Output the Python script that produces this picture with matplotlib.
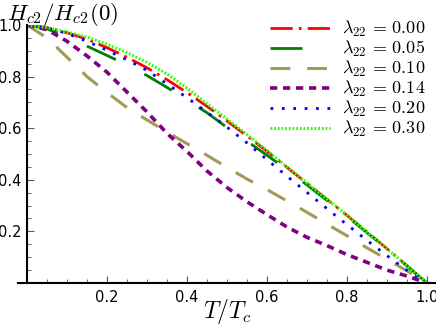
import numpy as np
import matplotlib
matplotlib.use("Agg")
import matplotlib.pyplot as plt
from matplotlib.ticker import MultipleLocator

t = np.linspace(0, 1, 21)

hc_000 = [1.0, 0.99, 0.97, 0.945, 0.912, 0.875, 0.834, 0.788, 0.738, 0.685, 0.628,
          0.57, 0.51, 0.448, 0.386, 0.324, 0.262, 0.198, 0.133, 0.067, 0.0]
hc_005 = [1.0, 0.985, 0.955, 0.918, 0.882, 0.845, 0.804, 0.758, 0.709, 0.66, 0.603,
          0.55, 0.495, 0.439, 0.38, 0.32, 0.258, 0.195, 0.132, 0.066, 0.0]
hc_010 = [1.0, 0.95, 0.875, 0.80, 0.738, 0.68, 0.632, 0.585, 0.54, 0.495, 0.448,
          0.403, 0.362, 0.318, 0.274, 0.228, 0.183, 0.136, 0.092, 0.047, 0.0]
hc_014 = [1.0, 0.982, 0.937, 0.88, 0.817, 0.74, 0.663, 0.58, 0.51, 0.434, 0.37,
          0.315, 0.265, 0.217, 0.177, 0.145, 0.11, 0.08, 0.05, 0.027, 0.0]
hc_020 = [1.0, 0.99, 0.967, 0.937, 0.902, 0.865, 0.824, 0.772, 0.718, 0.662, 0.604,
          0.543, 0.478, 0.414, 0.351, 0.288, 0.226, 0.165, 0.106, 0.049, 0.0]
hc_030 = [1.0, 0.99, 0.973, 0.953, 0.925, 0.893, 0.855, 0.81, 0.755, 0.695, 0.635,
          0.575, 0.513, 0.45, 0.388, 0.325, 0.262, 0.198, 0.133, 0.067, 0.0]

labels = ["0.00", "0.05", "0.10", "0.14", "0.20", "0.30"]
curves = [hc_000, hc_005, hc_010, hc_014, hc_020, hc_030]
colors = ["#ff0000", "#008000", "#a39a55", "#800080", "#0000ff", "#33ff00"]
styles = [(0, (8, 2.2, 1, 2.2)), (0, (11.5, 11.5)), (0, (6.5, 5.5)),
          (0, (2.0, 1.6)), (0, (1, 3.1)), (0, (0.6, 0.6))]
widths = [2.0, 2.0, 2.2, 2.6, 2.0, 2.2]

plt.rcParams["mathtext.fontset"] = "cm"

fig = plt.figure(figsize=(4.36, 3.27), dpi=100)
ax = fig.add_axes([18 / 436, 44 / 327, 418 / 436, 258 / 327])

for y, lab, c, ls, lw in zip(curves, labels, colors, styles, widths):
    ax.plot(t, y, color=c, linestyle=ls, lw=lw, label=r"$\lambda_{22}\,=\,%s$" % lab)

ax.set_xlim(-0.0225, 1.0225)
ax.set_ylim(0, 1.0)
ax.spines["top"].set_visible(False)
ax.spines["right"].set_visible(False)
ax.spines["left"].set_position(("data", 0))
ax.spines["left"].set_linewidth(1.5)
ax.spines["bottom"].set_linewidth(1.5)

ax.xaxis.set_minor_locator(MultipleLocator(0.05))
ax.yaxis.set_minor_locator(MultipleLocator(0.05))
ax.set_xticks([0.2, 0.4, 0.6, 0.8, 1.0])
ax.set_xticklabels(["0.2", "0.4", "0.6", "0.8", "1.0"])
ax.set_yticks([0.2, 0.4, 0.6, 0.8, 1.0])
ax.set_yticklabels(["0.2", "0.4", "0.6", "0.8", "1.0"])
ax.tick_params(which="both", direction="in", color="#555555", labelsize=10.5)
ax.tick_params(which="major", length=5, width=0.8)
ax.tick_params(which="minor", length=3, width=0.6)
ax.tick_params(axis="x", pad=5)
ax.tick_params(axis="y", pad=4)

fig.text(227 / 436, 1 - 311 / 327, r"$T/T_c$", fontsize=17, ha="center", va="center")
fig.text(7 / 436, 1 - 1 / 327, r"$H_{c2}/H_{c2}(0)$", fontsize=16.5, ha="left", va="top")

ax.legend(loc="upper right", bbox_to_anchor=(1.0, 1.065), frameon=False, fontsize=13,
          handlelength=3.3, handletextpad=0.65, labelspacing=0.0, borderaxespad=0.2)

fig.savefig("out.png", dpi=100)
